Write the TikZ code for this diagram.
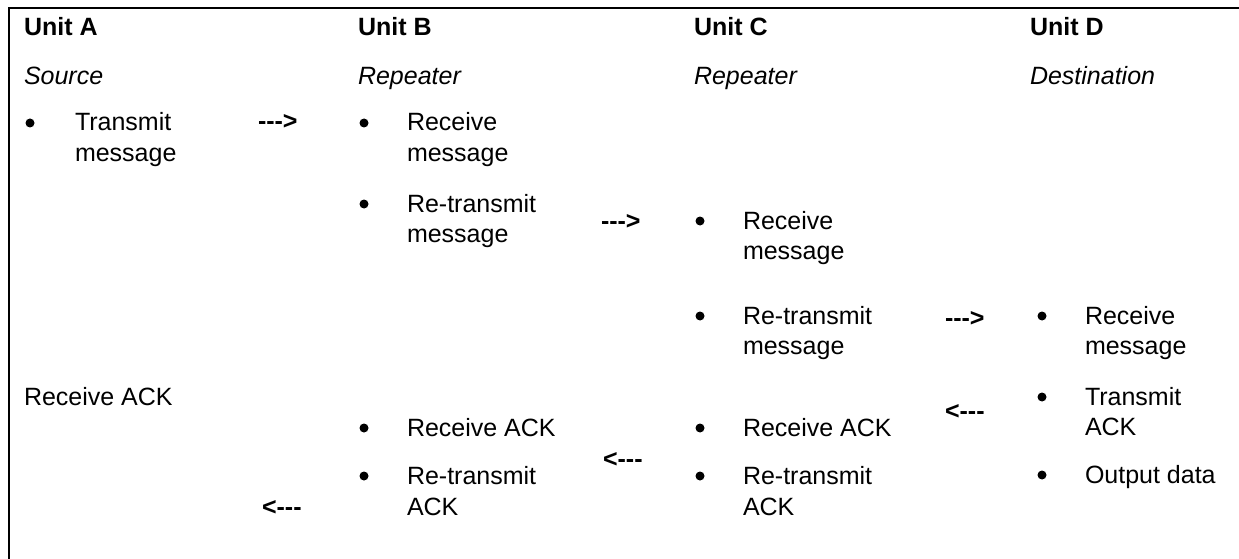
\documentclass[tikz,border=0pt]{standalone}
\usepackage{fontspec}
\setmainfont{Liberation Sans}
\begin{document}
\begin{tikzpicture}[x=1pt,y=-1pt,
  txt/.style={anchor=base west,inner sep=0pt,outer sep=0pt,font=\fontsize{25}{30}\selectfont},
  hdr/.style={txt,font=\fontsize{25}{30}\selectfont\bfseries},
  sub/.style={txt,font=\fontsize{25}{30}\selectfont\itshape},
  arr/.style={txt,font=\fontsize{25}{30}\selectfont\bfseries},
  bul/.style={anchor=center,inner sep=0pt,circle,fill=black,minimum size=9pt}]
\useasboundingbox (0,0) rectangle (1239,559);
\draw[line width=2.5pt] (9,559) -- (9,8) -- (1239,8);
% headers
\node[hdr] (ha) at (24,36) {Unit A};
\node[hdr] (hb) at (358,36) {Unit B};
\node[hdr] (hc) at (694,36) {Unit C};
\node[hdr] (hd) at (1030,36) {Unit D};
\node[sub] (sa) at (24,85) {Source};
\node[sub] (sb) at (358,85) {Repeater};
\node[sub] (sc) at (694,85) {Repeater};
\node[sub] (sd) at (1030,85) {Destination};
% Unit A
\node[bul] (ba1) at (30,123) {};
\node[txt] (a1a) at (75,131) {Transmit};
\node[txt] (a1b) at (75,161) {message};
\node[txt] (a2) at (24,405) {Receive ACK};
% Unit B
\node[bul] (bb1) at (364,123) {};
\node[txt] (b1a) at (407,131) {Receive};
\node[txt] (b1b) at (407,161) {message};
\node[bul] (bb2) at (364,204) {};
\node[txt] (b2a) at (407,212) {Re-transmit};
\node[txt] (b2b) at (407,242) {message};
\node[bul] (bb3) at (364,428) {};
\node[txt] (b3) at (407,436) {Receive ACK};
\node[bul] (bb4) at (364,476) {};
\node[txt] (b4a) at (407,484) {Re-transmit};
\node[txt] (b4b) at (407,515) {ACK};
% Unit C
\node[bul] (bc1) at (700,221) {};
\node[txt] (c1a) at (743,229) {Receive};
\node[txt] (c1b) at (743,259) {message};
\node[bul] (bc2) at (700,316) {};
\node[txt] (c2a) at (743,324) {Re-transmit};
\node[txt] (c2b) at (743,354) {message};
\node[bul] (bc3) at (700,428) {};
\node[txt] (c3) at (743,436) {Receive ACK};
\node[bul] (bc4) at (700,476) {};
\node[txt] (c4a) at (743,484) {Re-transmit};
\node[txt] (c4b) at (743,515) {ACK};
% Unit D
\node[bul] (bd1) at (1042,316) {};
\node[txt] (d1a) at (1085,324) {Receive};
\node[txt] (d1b) at (1085,354) {message};
\node[bul] (bd2) at (1042,397) {};
\node[txt] (d2a) at (1085,405) {Transmit};
\node[txt] (d2b) at (1085,435) {ACK};
\node[bul] (bd3) at (1042,475) {};
\node[txt] (d3) at (1085,483) {Output data};
% arrows (text)
\node[arr] (r1) at (258,130) {-{}-{}->};
\node[arr] (r2) at (601,229) {-{}-{}->};
\node[arr] (r3) at (945,326) {-{}-{}->};
\node[arr] (l1) at (945,419) {<-{}-{}-};
\node[arr] (l2) at (603,467) {<-{}-{}-};
\node[arr] (l3) at (262,515) {<-{}-{}-};
\end{tikzpicture}
\end{document}
